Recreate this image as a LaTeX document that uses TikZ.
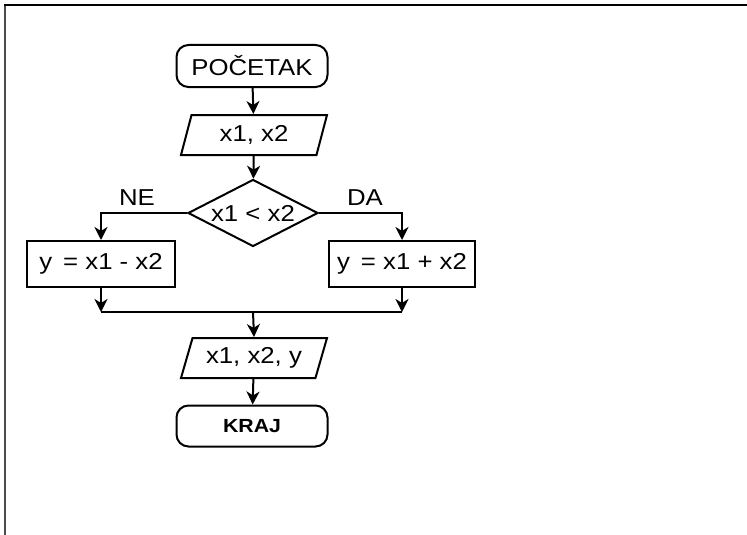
\documentclass[tikz,border=0pt]{standalone}
\usepackage{fontspec}
\setmainfont{Liberation Sans}[FakeStretch=1.12]
\usetikzlibrary{shapes.geometric,arrows.meta}
\begin{document}
\begin{tikzpicture}[x=1pt,y=-1pt,
  every node/.style={font=\fontsize{23}{27}\selectfont},
  base/.style={draw,line width=2pt,inner sep=0pt},
  term/.style={base,rectangle,rounded corners=12pt,minimum width=151pt,minimum height=42pt},
  proc/.style={base,rectangle,minimum height=46pt},
  io/.style={base,trapezium,trapezium left angle=61,trapezium right angle=119,trapezium stretches body,minimum width=146pt,minimum height=40pt},
  dec/.style={base,diamond,aspect=2,minimum width=130pt,minimum height=67pt},
  lbl/.style={inner sep=0pt},
  arr/.style={line width=2pt,-{Stealth[length=13pt,width=13pt,inset=4pt]}},
  ln/.style={line width=2pt}]
\useasboundingbox (0,0) rectangle (747,535);
\draw[line width=2.2pt,black!70] (5,5) -- (5,535);
\draw[line width=1.8pt] (4,5) -- (747,5);
\node[term] (start) at (252,66) {POČETAK};
\node[io] (in) at (254,135) {x1, x2};
\node[dec] (cond) at (253,213) {x1 < x2};
\node[proc,minimum width=148pt] (left) at (101,264) {y\, = x1 - x2};
\node[proc,minimum width=146pt] (right) at (402,264) {y\, = x1 + x2};
\coordinate (m) at (253,312);
\node[io] (out) at (254,358) {x1, x2, y};
\node[term,font=\fontsize{19}{23}\selectfont\bfseries,minimum height=41pt] (end) at (252,426) {KRAJ};
\node[lbl] (ne) at (137,198) {NE};
\node[lbl] (da) at (365,198) {DA};
\draw[arr] (start) -- (in);
\draw[arr] (in) -- (cond);
\draw[arr] (cond.west) -| (left.north);
\draw[arr] (cond.east) -| (right.north);
\draw[arr] (left.south) -- (left.south |- m);
\draw[arr] (right.south) -- (right.south |- m);
\draw[ln] (left.south |- m) -- (right.south |- m);
\draw[arr] (m) -- (out.north);
\draw[arr] (out) -- (end);
\end{tikzpicture}
\end{document}
